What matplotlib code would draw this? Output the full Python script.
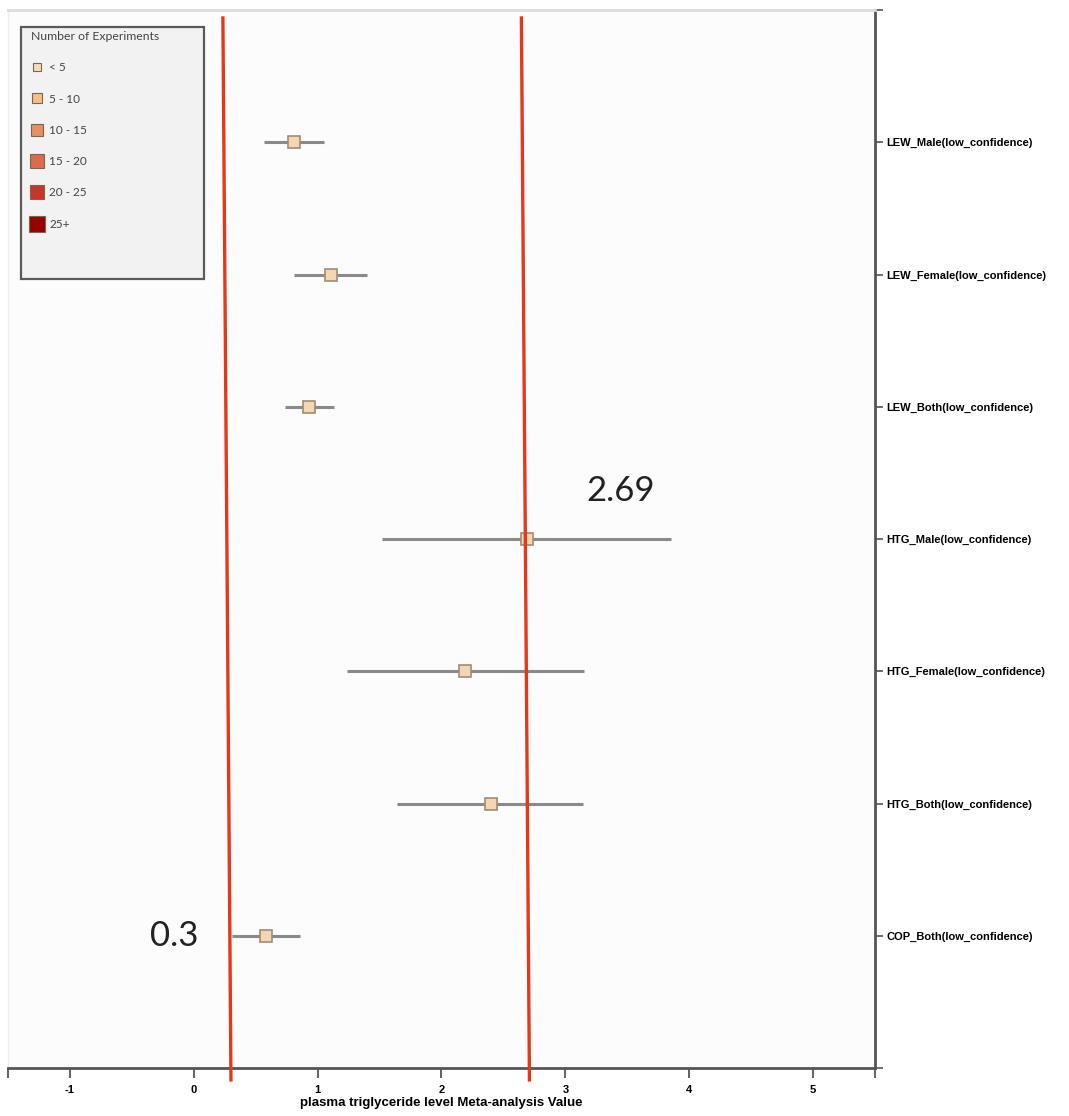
import matplotlib
matplotlib.use("Agg")
import matplotlib.pyplot as plt
from matplotlib.lines import Line2D
from matplotlib.patches import Rectangle

# --- data ---
groups = ["LEW_Male(low_confidence)", "LEW_Female(low_confidence)", "LEW_Both(low_confidence)",
          "HTG_Male(low_confidence)", "HTG_Female(low_confidence)", "HTG_Both(low_confidence)",
          "COP_Both(low_confidence)"]
estimate = [0.81, 1.11, 0.93, 2.69, 2.19, 2.40, 0.58]
ci_low = [0.57, 0.81, 0.74, 1.52, 1.24, 1.64, 0.31]
ci_high = [1.05, 1.40, 1.13, 3.85, 3.15, 3.14, 0.86]

legend_labels = ["< 5", "5 - 10", "10 - 15", "15 - 20", "20 - 25", "25+"]
legend_colors = ["#f6dcb4", "#f3bf86", "#e9915e", "#dd6a4c", "#c6372a", "#980000"]
legend_sizes = [6, 7.5, 8, 9.5, 10, 11.5]

# hand-drawn reference lines (slightly slanted in the original)
ref_lines_x = [(0.235, 0.30), (2.645, 2.71)]
ref_lines_y = (-0.94, 7.09)
annotations = [("2.69", 3.45, 2.64), ("0.3", -0.16, 6.0)]

xticks = [-1.5, -1, 0, 1, 2, 3, 4, 5, 5.5]
xtick_labels = ["", "-1", "0", "1", "2", "3", "4", "5", ""]

fig = plt.figure(figsize=(10.69, 11.16), dpi=100)
ax = fig.add_axes([0.0075, 0.043, 0.811, 0.948])
ax.set_facecolor("#fcfcfc")

ypos = list(range(len(groups)))
for y, lo, hi in zip(ypos, ci_low, ci_high):
    ax.plot([lo, hi], [y, y], color="#8a8a8a", lw=2.2, solid_capstyle="butt", zorder=2)
ax.plot(estimate, ypos, ls="", marker="s", markersize=9, mfc="#f3d7b5",
        mec="#a38c72", mew=1.2, zorder=3)

for (x0, x1) in ref_lines_x:
    ax.plot([x0, x1], ref_lines_y, color="#e5381b", lw=2.4, clip_on=False, zorder=4)

for txt, x, y in annotations:
    ax.text(x, y, txt, fontsize=25, family="Lato", fontweight="normal",
            ha="center", va="center", color="#222222")

ax.set_xlim(-1.5, 5.5)
ax.set_ylim(7, -1)
ax.set_xticks(xticks)
ax.set_xticklabels(xtick_labels, fontsize=8, fontweight="bold", family="Liberation Sans")
ax.set_yticks(range(-1, 8))
ax.set_yticklabels([""] + groups + [""], fontsize=8, fontweight="bold", family="Liberation Sans")
ax.yaxis.tick_right()
ax.tick_params(axis="x", direction="out", length=7, width=1.3, color="#555555", pad=5)
ax.tick_params(axis="y", direction="out", length=6, width=1.2, color="#555555", pad=2)
ax.set_xlabel("plasma triglyceride level Meta-analysis Value", fontsize=9.5,
              fontweight="bold", family="Liberation Sans", labelpad=2)

ax.spines["bottom"].set_color("#555555")
ax.spines["bottom"].set_linewidth(2)
ax.spines["right"].set_color("#555555")
ax.spines["right"].set_linewidth(2)
ax.spines["top"].set_color("#dcdcdc")
ax.spines["top"].set_linewidth(2)
ax.spines["left"].set_color("#eeeeee")
ax.spines["left"].set_linewidth(1)

# legend box
ax.add_patch(Rectangle((0.0155, 0.746), 0.211, 0.238, transform=ax.transAxes,
                       facecolor="#f2f2f2", edgecolor="#5a5a5a", lw=1.6, zorder=5))
handles = [Line2D([], [], ls="", marker="s", markersize=s, mfc=c, mec="#7a6650", mew=0.8)
           for c, s in zip(legend_colors, legend_sizes)]
leg = ax.legend(handles, legend_labels, title="Number of Experiments", loc="upper left",
                bbox_to_anchor=(0.011, 0.9925), frameon=False, alignment="left",
                prop={"size": 8.5, "family": "Lato"},
                title_fontproperties={"size": 8.8, "family": "Lato"},
                labelspacing=1.72, handletextpad=0.5, handlelength=1.1, borderpad=0.6)
leg.set_zorder(6)
leg.get_title().set_color("#444444")
for t in leg.get_texts():
    t.set_color("#444444")

fig.savefig("out.png", dpi=100)
